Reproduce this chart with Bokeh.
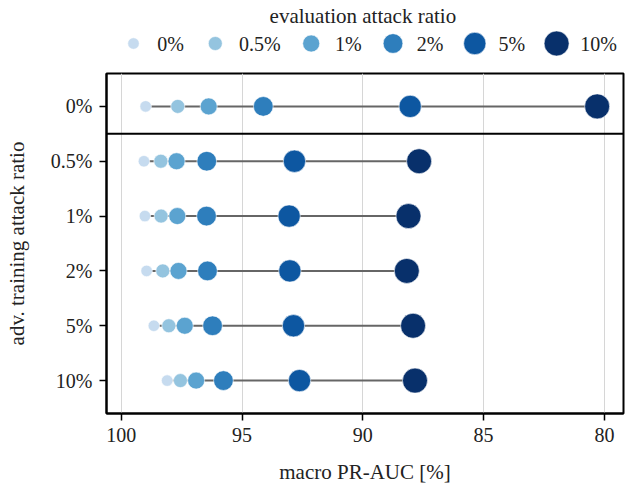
from bokeh.plotting import figure
from bokeh.models import Range1d, FixedTicker, Span
from bokeh.layouts import column
from bokeh.core.properties import value
from bokeh.embed import file_html
from bokeh.resources import INLINE

# ---------------- data ----------------
train_ratios = ["0%", "0.5%", "1%", "2%", "5%", "10%"]
eval_ratios = ["0%", "0.5%", "1%", "2%", "5%", "10%"]
# macro PR-AUC [%] per evaluation attack ratio, one value per training row
auc_eval_0 = [98.99, 99.06, 99.02, 98.95, 98.65, 98.10]
auc_eval_05 = [97.66, 98.36, 98.35, 98.28, 98.03, 97.55]
auc_eval_1 = [96.38, 97.71, 97.68, 97.63, 97.37, 96.90]
auc_eval_2 = [94.12, 96.46, 96.47, 96.43, 96.22, 95.77]
auc_eval_5 = [88.04, 92.83, 93.05, 93.02, 92.87, 92.62]
auc_eval_10 = [80.30, 87.67, 88.11, 88.18, 87.92, 87.84]
x_ticks = [100, 95, 90, 85, 80]

series = [auc_eval_0, auc_eval_05, auc_eval_1, auc_eval_2, auc_eval_5, auc_eval_10]
colors = ["#c6dbef", "#94c4df", "#5ba3d0", "#2e7ebc", "#0d57a1", "#08306b"]
sizes = [11.5, 14, 17, 19.7, 22.3, 25]

FONT = value("Liberation Serif")
TXT = "#222222"
FS = "20px"
FS_LABEL = "21px"

W = 626
BL, BR = 106, 3          # left / right borders around the frame
FRAME_W = W - BL - BR

# ---------------- legend figure ----------------
LH = 68
leg = figure(width=W, height=LH, x_range=Range1d(0, FRAME_W), y_range=Range1d(LH, 0),
             output_backend="svg", toolbar_location=None,
             min_border_left=BL, min_border_right=BR, min_border_top=0,
             min_border_bottom=0, x_axis_location=None, y_axis_location=None)
leg.grid.visible = False
leg.outline_line_color = None
leg.background_fill_color = None
leg.border_fill_color = None


def text_w(s):
    w = 0.0
    for ch in s:
        if ch.isdigit():
            w += 9.6
        elif ch == ".":
            w += 4.5
        elif ch == "%":
            w += 14.5
        else:
            w += 9.0
    return w


mx, lx = [], []
cur = 27.0
for lab in eval_ratios:
    mx.append(cur)
    lx.append(cur + 23.7)
    cur = cur + 23.7 + text_w(lab) + 34.0
item_y = 43
leg.scatter(x=mx, y=[item_y] * len(mx), size=sizes, fill_color=colors,
            line_color="white", line_width=0.6)
leg.text(x=lx, y=[item_y] * len(lx), text=[s for s in eval_ratios],
         text_font=FONT, text_font_size=FS, text_color=TXT,
         text_baseline="middle", text_align="left")
title_x = (mx[0] - sizes[0] / 2 + lx[-1] + text_w(eval_ratios[-1])) / 2 - 8
leg.text(x=[title_x], y=[15], text=["evaluation attack ratio"],
         text_font=FONT, text_font_size=FS_LABEL, text_color=TXT,
         text_baseline="middle", text_align="center")

# ---------------- main figure ----------------
ypos = list(range(len(train_ratios)))
p = figure(width=W, height=487 - LH, output_backend="svg", toolbar_location=None,
           x_range=Range1d(100.61, 79.21), y_range=Range1d(5.6, -0.6),
           min_border_left=BL, min_border_right=BR, min_border_top=5,
           min_border_bottom=74)

p.xaxis.ticker = FixedTicker(ticks=x_ticks)
p.yaxis.ticker = FixedTicker(ticks=ypos)
p.yaxis.major_label_overrides = {i: t for i, t in zip(ypos, train_ratios)}
p.xaxis.major_label_overrides = {t: str(t) for t in x_ticks}

for ax in (p.xaxis, p.yaxis):
    ax.axis_line_color = "black"
    ax.axis_line_width = 2
    ax.major_tick_in = 0
    ax.major_tick_out = 7
    ax.major_tick_line_width = 1.5
    ax.major_tick_line_color = "black"
    ax.minor_tick_line_color = None
    ax.major_label_text_font = "Liberation Serif"
    ax.major_label_text_font_size = FS
    ax.major_label_text_color = TXT
    ax.axis_label_text_font = "Liberation Serif"
    ax.axis_label_text_font_size = FS_LABEL
    ax.axis_label_text_font_style = "normal"
    ax.axis_label_text_color = TXT

p.xaxis.axis_label = "macro PR-AUC [%]"
p.yaxis.axis_label = "adv. training attack ratio"
p.xaxis.major_label_standoff = 7
p.xaxis.axis_label_standoff = 15
p.yaxis.major_label_standoff = 7
p.yaxis.axis_label_standoff = 19

p.xgrid.grid_line_color = "#d6d6d6"
p.xgrid.grid_line_width = 1
p.ygrid.grid_line_color = None
p.outline_line_color = "black"
p.outline_line_width = 2
p.outline_line_alpha = 1

# separator between untrained row and adversarially trained rows
p.add_layout(Span(location=(ypos[0] + ypos[1]) / 2, dimension="width",
                  line_color="black", line_width=2))

# range lines per training row
row_min = [min(vals) for vals in zip(*series)]
row_max = [max(vals) for vals in zip(*series)]
p.segment(x0=row_min, x1=row_max, y0=ypos, y1=ypos, line_color="#666666",
          line_width=2)

for vals, c, s in zip(series, colors, sizes):
    p.scatter(x=vals, y=ypos, size=s, fill_color=c, line_color="white",
              line_width=0.6)

layout = column(leg, p, spacing=0)
open("out.html", "w").write(file_html(layout, INLINE))
